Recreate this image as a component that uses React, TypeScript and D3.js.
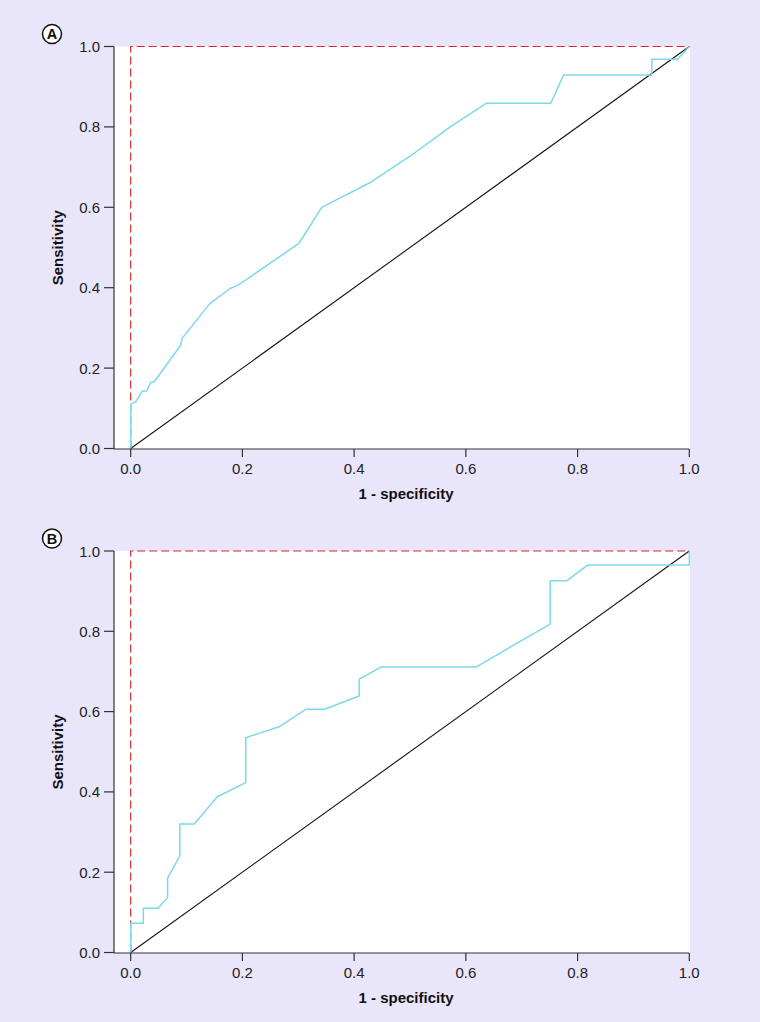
import React from "react";
import * as d3 from "d3";

// Panel A ROC curve: 1 - specificity (fpr) and sensitivity (tpr)
const fprA = [0, 0, 0.009, 0.021, 0.029, 0.036, 0.042, 0.0895, 0.092, 0.142, 0.178, 0.193, 0.301, 0.342, 0.428, 0.5, 0.572, 0.637, 0.752, 0.775, 0.933, 0.933, 0.979, 1];
const tprA = [0, 0.111, 0.116, 0.143, 0.143, 0.165, 0.166, 0.257, 0.274, 0.361, 0.398, 0.407, 0.51, 0.6, 0.661, 0.727, 0.8, 0.859, 0.859, 0.929, 0.929, 0.968, 0.968, 1];

// Panel B ROC curve
const fprB = [0, 0, 0.0226, 0.0226, 0.049, 0.066, 0.066, 0.088, 0.088, 0.114, 0.155, 0.206, 0.206, 0.267, 0.314, 0.347, 0.409, 0.409, 0.448, 0.618, 0.751, 0.751, 0.781, 0.818, 1, 1];
const tprB = [0, 0.073, 0.073, 0.11, 0.11, 0.137, 0.185, 0.241, 0.32, 0.32, 0.388, 0.423, 0.535, 0.563, 0.606, 0.606, 0.639, 0.681, 0.711, 0.711, 0.818, 0.926, 0.926, 0.965, 0.965, 1];

const tickValues = [0, 0.2, 0.4, 0.6, 0.8, 1.0];
const panelLabels = ["A", "B"];
const xTitle = "1 - specificity";
const yTitle = "Sensitivity";

const FONT = "'Liberation Sans', Arial, Helvetica, sans-serif";

type PanelProps = { fpr: number[]; tpr: number[]; top: number; bottom: number; label: string };

function Panel({ fpr, tpr, top, bottom, label }: PanelProps) {
  const x = d3.scaleLinear().domain([0, 1]).range([130.7, 689.3]);
  const y = d3.scaleLinear().domain([0, 1]).range([bottom, top]);
  const axisX = 114;
  const axisY = bottom + 0.5;
  const pts: [number, number][] = fpr.map((f, i) => [f, tpr[i]]);
  const line = d3.line<[number, number]>().x((d) => x(d[0])).y((d) => y(d[1]));
  return (
    <g>
      <rect x={axisX} y={y(1)} width={x(1) - axisX + 0.7} height={axisY - y(1)} fill="#ffffff" />
      <path
        d={`M${x(0)},${y(0)}L${x(0)},${y(1)}L${x(1)},${y(1)}`}
        fill="none"
        stroke="#d8262e"
        strokeWidth={1.2}
        strokeDasharray="8,4"
      />
      <line x1={x(0)} y1={y(0)} x2={x(1)} y2={y(1)} stroke="#111" strokeWidth={1.1} />
      <path d={line(pts) || ""} fill="none" stroke="#7dd8ea" strokeWidth={1.5} strokeLinejoin="round" />
      <line x1={axisX} y1={y(1)} x2={axisX} y2={axisY} stroke="#333" strokeWidth={1.2} />
      <line x1={axisX} y1={axisY} x2={x(1)} y2={axisY} stroke="#333" strokeWidth={1.2} />
      {tickValues.map((t) => (
        <g key={"y" + t}>
          <line x1={axisX - 10} x2={axisX} y1={y(t)} y2={y(t)} stroke="#333" strokeWidth={1.2} />
          <text x={axisX - 14} y={y(t) + 5.5} textAnchor="end" fontSize={15} fontFamily={FONT} fill="#222">
            {d3.format(".1f")(t)}
          </text>
        </g>
      ))}
      {tickValues.map((t) => (
        <g key={"x" + t}>
          <line x1={x(t)} x2={x(t)} y1={axisY} y2={axisY + 8} stroke="#333" strokeWidth={1.2} />
          <text x={x(t)} y={axisY + 24.5} textAnchor="middle" fontSize={15} fontFamily={FONT} fill="#222">
            {d3.format(".1f")(t)}
          </text>
        </g>
      ))}
      <text
        x={406}
        y={axisY + 50}
        textAnchor="middle"
        fontSize={15}
        fontWeight="bold"
        fontFamily={FONT}
        fill="#111"
      >
        {xTitle}
      </text>
      <text
        transform={`translate(63,${(y(1) + axisY) / 2}) rotate(-90)`}
        textAnchor="middle"
        fontSize={15}
        fontWeight="bold"
        fontFamily={FONT}
        fill="#111"
      >
        {yTitle}
      </text>
      <circle cx={52} cy={top - 12.5} r={9.5} fill="#fff" stroke="#111" strokeWidth={1.5} />
      <text
        x={52}
        y={top - 7.3}
        textAnchor="middle"
        fontSize={14.5}
        fontWeight="bold"
        fontFamily={FONT}
        fill="#111"
      >
        {label}
      </text>
    </g>
  );
}

export default function App() {
  return (
    <svg
      width={760}
      height={1022}
      style={{ position: "absolute", left: 0, top: 0, display: "block" }}
    >
      <rect x={0} y={0} width={760} height={1022} fill="#e9e5fb" />
      <Panel fpr={fprA} tpr={tprA} top={46.5} bottom={448.5} label={panelLabels[0]} />
      <Panel fpr={fprB} tpr={tprB} top={551} bottom={952.5} label={panelLabels[1]} />
    </svg>
  );
}
